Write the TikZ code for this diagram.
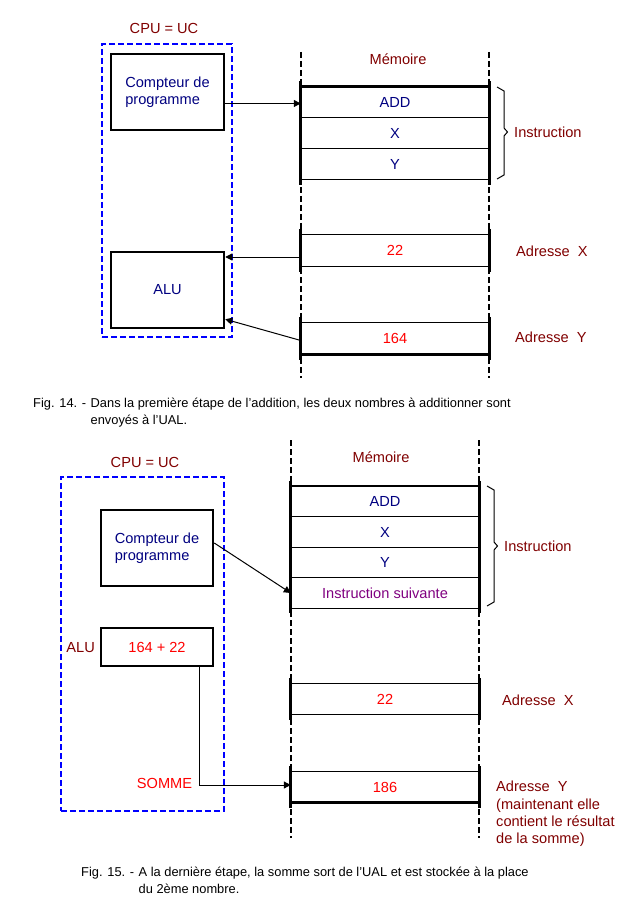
\documentclass[tikz,border=0pt]{standalone}
\usepackage{fontspec}
\setmainfont{Liberation Sans}
\usetikzlibrary{arrows.meta,calc}
\definecolor{dred}{HTML}{800000}
\definecolor{navy}{HTML}{000080}
\definecolor{purp}{HTML}{800080}
\begin{document}
\begin{tikzpicture}[x=1pt,y=-1pt,
  every node/.style={font=\fontsize{14.6}{17.3}\selectfont, inner sep=0pt},
  box/.style={draw, line width=2.5pt, text=navy, align=left, minimum width=113pt},
  cpubox/.style={draw=blue, dash pattern=on 6pt off 3pt, line width=1.3pt},
  cpulbl/.style={text=dred},
  cell/.style={minimum width=188pt, minimum height=31pt, text=navy},
  redtxt/.style={text=red},
  lbl/.style={text=dred},
  memdash/.style={line width=2.8pt, dash pattern=on 6pt off 3pt},
  memsolid/.style={line width=2.8pt},
  thinln/.style={line width=1pt},
  thickln/.style={line width=2.6pt},
  arr/.style={line width=1pt, -{Triangle[length=7pt,width=7pt]}},
  bracepath/.style={line width=1pt},
  captxt/.style={font=\fontsize{12.85}{17}\selectfont, anchor=base west}
]
\useasboundingbox (0,0) rectangle (625,901);

% ================= Figure 14 =================
\node[cpulbl] (cpu1t) at (164,28) {CPU = UC};
\node[cpubox, minimum width=130pt, minimum height=293pt] (cpu1) at (167,190.5) {};
\node[box, minimum height=76pt] (pc1) at (167.5,92) {Compteur de\\programme};
\node[box, minimum height=76pt] (alu1) at (167.5,290) {ALU};

\node[lbl] (mem1) at (398,59) {Mémoire};
\coordinate (m1lt) at (301,52);
\coordinate (m1lb) at (301,378);
\coordinate (m1rt) at (489,52);
\coordinate (m1rb) at (489,378);
\draw[memdash] (m1lt) -- (m1lb);
\draw[memdash] (m1rt) -- (m1rb);

\node[cell] (a1) at (395,102) {ADD};
\node[cell] (x1) at (395,133) {X};
\node[cell] (y1) at (395,164) {Y};
\node[cell, text=red] (v22a) at (395,250.5) {22};
\node[cell, text=red] (v164) at (395,338.5) {164};

\draw[thickln] (a1.north west) -- (a1.north east);
\draw[thinln] (x1.north west) -- (x1.north east);
\draw[thinln] (y1.north west) -- (y1.north east);
\draw[thinln] (y1.south west) -- (y1.south east);
\draw[memsolid] ($(a1.north west)+(0,-5)$) -- ($(y1.south west)+(0,5)$);
\draw[memsolid] ($(a1.north east)+(0,-5)$) -- ($(y1.south east)+(0,5)$);

\draw[thinln] (v22a.north west) -- (v22a.north east);
\draw[thinln] (v22a.south west) -- (v22a.south east);
\draw[memsolid] ($(v22a.north west)+(0,-6)$) -- ($(v22a.south west)+(0,6)$);
\draw[memsolid] ($(v22a.north east)+(0,-6)$) -- ($(v22a.south east)+(0,6)$);

\draw[thinln] (v164.north west) -- (v164.north east);
\draw[thickln] (v164.south west) -- (v164.south east);
\draw[memsolid] ($(v164.north west)+(0,-6)$) -- ($(v164.south west)+(0,6)$);
\draw[memsolid] ($(v164.north east)+(0,-6)$) -- ($(v164.south east)+(0,6)$);

\draw[bracepath] (497,87) -- (504,91) -- (504,128) -- (507.5,132) -- (504,136) -- (504,175) -- (497,179);
\node[lbl, anchor=west] (ins1) at (514,132) {Instruction};
\node[lbl, anchor=west] (adx1) at (516,251) {Adresse\ \ X};
\node[lbl, anchor=west] (ady1) at (515,337) {Adresse\ \ Y};

\draw[arr] (pc1.east |- 0,103.5) -- (a1.west |- 0,103.5);
\coordinate (p22a) at ($(v22a.west)+(0,6.5)$);
\draw[arr] (p22a) -- (p22a -| alu1.east);
\draw[arr] ($(v164.west)+(0,2)$) -- ($(alu1.south east)+(0,-10)$);

\node[captxt] (c14a) at (33,407.5) {Fig. 14. -};
\node[captxt] (c14b) at ($(c14a.base east)+(4,0)$) {Dans la première étape de l'addition, les deux nombres à additionner sont};
\node[captxt] (c14c) at ($(c14b.base west)+(0,17)$) {envoyés à l'UAL.};

% ================= Figure 15 =================
\node[cpulbl] (cpu2t) at (145,462) {CPU = UC};
\node[cpubox, minimum width=163pt, minimum height=334pt] (cpu2) at (142.5,644) {};
\node[box, minimum width=112pt, minimum height=76pt] (pc2) at (157,548) {Compteur de\\programme};
\node[box, minimum width=112pt, minimum height=38pt, text=red] (alu2) at (157,647) {164 + 22};
\node[lbl, anchor=east] (alu2l) at (95,648) {ALU};
\node[redtxt] (somme) at (164.5,783) {SOMME};

\node[lbl] (mem2) at (381,457) {Mémoire};
\coordinate (m2lt) at (291,440);
\coordinate (m2lb) at (291,838);
\coordinate (m2rt) at (479,440);
\coordinate (m2rb) at (479,838);
\draw[memdash] (m2lt) -- (m2lb);
\draw[memdash] (m2rt) -- (m2rb);

\node[cell, minimum height=30.5pt] (a2) at (385,501.5) {ADD};
\node[cell, minimum height=30.5pt] (x2) at (385,532) {X};
\node[cell, minimum height=30.5pt] (y2) at (385,562.5) {Y};
\node[cell, minimum height=30.5pt, text=purp] (is2) at (385,593) {Instruction suivante};
\node[cell, minimum height=30pt, text=red] (v22b) at (385,699) {22};
\node[cell, minimum height=30pt, text=red] (v186) at (385,787) {186};

\draw[thickln] (a2.north west) -- (a2.north east);
\draw[thinln] (x2.north west) -- (x2.north east);
\draw[thinln] (y2.north west) -- (y2.north east);
\draw[thinln] (is2.north west) -- (is2.north east);
\draw[thinln] (is2.south west) -- (is2.south east);
\draw[memsolid] ($(a2.north west)+(0,-5)$) -- ($(is2.south west)+(0,5)$);
\draw[memsolid] ($(a2.north east)+(0,-5)$) -- ($(is2.south east)+(0,5)$);

\draw[thinln] (v22b.north west) -- (v22b.north east);
\draw[thinln] (v22b.south west) -- (v22b.south east);
\draw[memsolid] ($(v22b.north west)+(0,-6)$) -- ($(v22b.south west)+(0,6)$);
\draw[memsolid] ($(v22b.north east)+(0,-6)$) -- ($(v22b.south east)+(0,6)$);

\draw[thinln] (v186.north west) -- (v186.north east);
\draw[thickln] (v186.south west) -- (v186.south east);
\draw[memsolid] ($(v186.north west)+(0,-6)$) -- ($(v186.south west)+(0,6)$);
\draw[memsolid] ($(v186.north east)+(0,-6)$) -- ($(v186.south east)+(0,6)$);

\draw[bracepath] (487,486) -- (494,490) -- (494,542) -- (497.5,546) -- (494,550) -- (494,602) -- (487,606);
\node[lbl, anchor=west] (ins2) at (504,546) {Instruction};
\node[lbl, anchor=west] (adx2) at (502,700) {Adresse\ \ X};
\node[lbl, anchor=north west, align=left] (ady2) at (496,781) {Adresse\ \ Y\\(maintenant elle\\contient le résultat\\de la somme)};

\draw[arr] ($(pc2.east)+(0,-5)$) -- (is2.west);
\draw[arr] ($(alu2.south east)+(-15,0)$) |- ($(v186.west)+(0,-2)$);

\node[captxt] (c15a) at (81,876.5) {Fig. 15. -};
\node[captxt] (c15b) at ($(c15a.base east)+(4,0)$) {A la dernière étape, la somme sort de l'UAL et est stockée à la place};
\node[captxt] (c15c) at ($(c15b.base west)+(0,17)$) {du 2ème nombre.};
\end{tikzpicture}
\end{document}
